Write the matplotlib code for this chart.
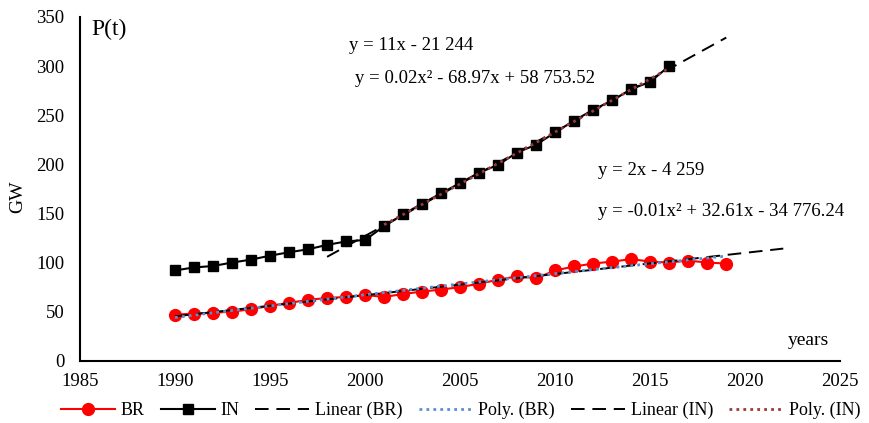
import numpy as np
import matplotlib
matplotlib.use("Agg")
import matplotlib.pyplot as plt

plt.rcParams["font.family"] = ["Liberation Serif", "DejaVu Serif"]

# installed capacity, GW
years_br = list(range(1990, 2020))
br = [47, 48, 49, 50, 52.5, 56, 59, 62, 64, 65,
      67, 65, 68, 70.5, 72.5, 75, 78.5, 82.5, 86, 84,
      92, 96, 99, 101, 103.5, 101, 100, 102, 100, 99]

years_in = list(range(1990, 2017))
india = [92, 95, 96.5, 100, 103, 107, 110.5, 113.5, 118, 121.5,
         123, 137, 149, 160, 170.5, 181, 191.5, 199.5, 212, 220,
         232.5, 244.5, 255.5, 265, 276.5, 284, 300]

# trend fits: BR on all years, IN on the post-2000 segment
in_fit_from = 2001
eq_lin_in = "y = 11x - 21 244"
eq_poly_in = "y = 0.02x² - 68.97x + 58 753.52"
eq_lin_br = "y = 2x - 4 259"
eq_poly_br = "y = -0.01x² + 32.61x - 34 776.24"

xb = np.array(years_br, dtype=float)
yb = np.array(br)
xi = np.array(years_in, dtype=float)
yi = np.array(india)
mask = xi >= in_fit_from

fig = plt.figure(figsize=(8.69, 4.23), dpi=100)
ax = fig.add_axes([0.092, 0.147, 0.875, 0.813])

ax.plot(xb, yb, color="#ff0000", marker="o", markersize=8.5, lw=1.5,
        label="BR", zorder=3)
ax.plot(xi, yi, color="black", marker="s", markersize=6.5, lw=1.5,
        label="IN", zorder=3)

# linear trend BR, 3 periods forward
p = np.polyfit(xb, yb, 1)
t = np.linspace(xb[0], xb[-1] + 3, 50)
ax.plot(t, np.polyval(p, t), color="black", ls=(0, (7, 4)), lw=1.4,
        label="Linear (BR)", zorder=4)

# quadratic trend BR
p = np.polyfit(xb, yb, 2)
t = np.linspace(xb[0], xb[-1], 80)
ax.plot(t, np.polyval(p, t), color="#5b8fd0", ls=(0, (1, 1.5)), lw=2,
        label="Poly. (BR)", zorder=4)

# linear trend IN, 3 periods back and forward
p = np.polyfit(xi[mask], yi[mask], 1)
t = np.linspace(xi[mask][0] - 3, xi[-1] + 3, 50)
ax.plot(t, np.polyval(p, t), color="black", ls=(0, (7, 4)), lw=1.4,
        label="Linear (IN)", zorder=2)

# quadratic trend IN
p = np.polyfit(xi[mask], yi[mask], 2)
t = np.linspace(xi[mask][0], xi[-1], 80)
ax.plot(t, np.polyval(p, t), color="#9b3a3a", ls=(0, (1, 1.5)), lw=2,
        label="Poly. (IN)", zorder=4)

ax.set_xlim(1985, 2025)
ax.set_ylim(0, 350)
ax.set_xticks(range(1985, 2026, 5))
ax.set_yticks(range(0, 351, 50))
ax.tick_params(length=0, labelsize=13.5)
ax.tick_params(axis="y", pad=11)
ax.tick_params(axis="x", pad=9)
for side in ("top", "right"):
    ax.spines[side].set_visible(False)
for side in ("left", "bottom"):
    ax.spines[side].set_linewidth(1.5)

fig.text(0.020, 0.534, "GW", fontsize=14, rotation=90,
         ha="center", va="center")

fig.text(0.105, 0.93, "P(t)", fontsize=17, va="center")
fig.text(0.402, 0.893, eq_lin_in, fontsize=13.5, va="center")
fig.text(0.408, 0.815, eq_poly_in, fontsize=13.5, va="center")
fig.text(0.688, 0.598, eq_lin_br, fontsize=13.5, va="center")
fig.text(0.688, 0.501, eq_poly_br, fontsize=13.5, va="center")
fig.text(0.907, 0.194, "years", fontsize=14, va="center")

fig.legend(loc="center", bbox_to_anchor=(0.53, 0.03), ncol=6, frameon=False,
           fontsize=13, handlelength=3, handletextpad=0.3,
           columnspacing=0.9)

fig.savefig("out.png", dpi=100)
